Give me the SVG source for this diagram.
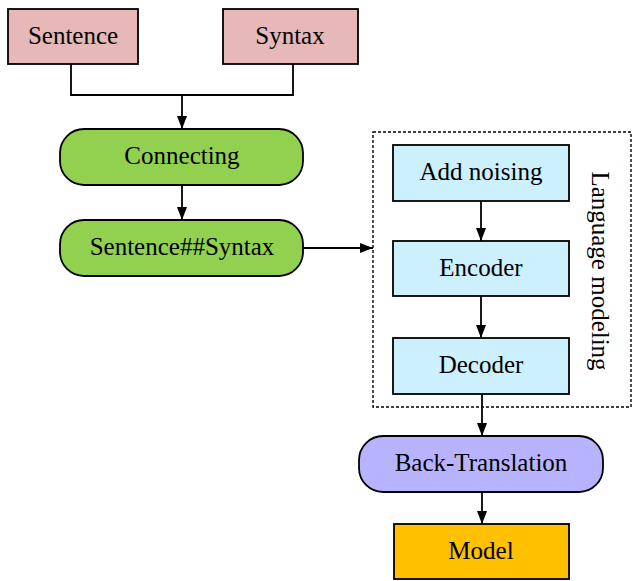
<svg xmlns="http://www.w3.org/2000/svg" width="632" height="581" viewBox="0 0 632 581">
  <style>
    .box { stroke: #000; stroke-width: 1.8; }
    .lbl { font-family: "Liberation Serif", "Times New Roman", serif; font-size: 25px; fill: #000; text-anchor: middle; }
    .edge { fill: none; stroke: #000; stroke-width: 1.8; }
    .pink { fill: #e6b8b7; }
    .green { fill: #92d050; }
    .blue { fill: #ccf0fd; }
    .violet { fill: #b8b3ff; }
    .gold { fill: #ffc000; }
  </style>
  <defs>
    <marker id="arrow" markerWidth="13" markerHeight="12" refX="13" refY="6" orient="auto" markerUnits="userSpaceOnUse">
      <path d="M0,1 L13,6 L0,11 Z" fill="#000"/>
    </marker>
  </defs>
  <rect width="632" height="581" fill="#fff"/>

  <!-- language-modeling frame -->
  <g id="language-modeling">
    <rect x="373" y="132" width="258" height="275" fill="none" stroke="#000" stroke-width="1.4" stroke-dasharray="3,2"/>
    <text class="lbl" transform="translate(592,271) rotate(90)">Language modeling</text>
  </g>

  <g id="connectors">
    <path class="edge" d="M71,64 V95 H293 V64"/>
    <path class="edge" d="M182,95 V129" marker-end="url(#arrow)"/>
    <path class="edge" d="M182,185 V220" marker-end="url(#arrow)"/>
    <path class="edge" d="M303,248 H373" marker-end="url(#arrow)"/>
    <path class="edge" d="M481,201 V241" marker-end="url(#arrow)"/>
    <path class="edge" d="M481,296 V338" marker-end="url(#arrow)"/>
    <path class="edge" d="M482,394 V436" marker-end="url(#arrow)"/>
    <path class="edge" d="M482,492 V524" marker-end="url(#arrow)"/>
  </g>

  <g id="sentence">
    <rect class="box pink" x="8" y="9" width="130" height="55"/>
    <text class="lbl" x="73" y="44">Sentence</text>
  </g>
  <g id="syntax">
    <rect class="box pink" x="223" y="9" width="135" height="55"/>
    <text class="lbl" x="290" y="44">Syntax</text>
  </g>
  <g id="connecting">
    <rect class="box green" x="60" y="129" width="243" height="56" rx="24" ry="24"/>
    <text class="lbl" x="182" y="164">Connecting</text>
  </g>
  <g id="sentence-syntax">
    <rect class="box green" x="60" y="220" width="243" height="56" rx="24" ry="24"/>
    <text class="lbl" x="182" y="255">Sentence##Syntax</text>
  </g>
  <g id="add-noising">
    <rect class="box blue" x="393" y="145" width="176" height="56"/>
    <text class="lbl" x="481" y="180">Add noising</text>
  </g>
  <g id="encoder">
    <rect class="box blue" x="393" y="241" width="176" height="55"/>
    <text class="lbl" x="481" y="276">Encoder</text>
  </g>
  <g id="decoder">
    <rect class="box blue" x="393" y="338" width="176" height="56"/>
    <text class="lbl" x="481" y="373">Decoder</text>
  </g>
  <g id="back-translation">
    <rect class="box violet" x="359" y="436" width="244" height="56" rx="24" ry="24"/>
    <text class="lbl" x="481" y="471">Back-Translation</text>
  </g>
  <g id="model">
    <rect class="box gold" x="394" y="524" width="175" height="55"/>
    <text class="lbl" x="481" y="559">Model</text>
  </g>
</svg>
